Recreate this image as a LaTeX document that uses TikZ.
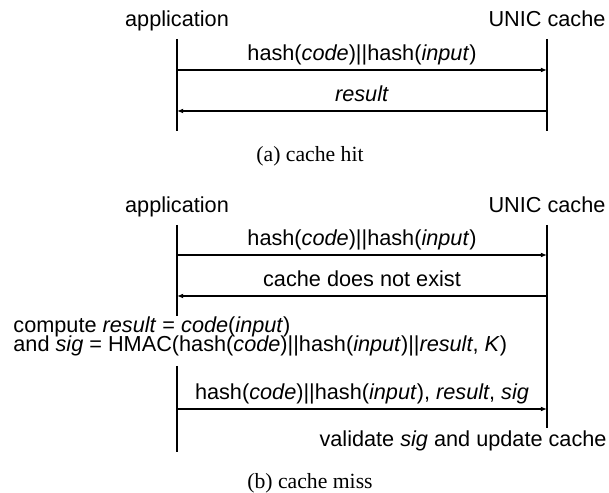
\documentclass[tikz,border=0pt]{standalone}
\usepackage{fontspec}
\setmainfont{Liberation Serif}
\newfontfamily\helv{Liberation Sans}
\usetikzlibrary{arrows.meta,positioning}

\begin{document}
\begin{tikzpicture}[x=0.461pt,y=-0.461pt,
    actor/.style={font=\helv\fontsize{10}{12}\selectfont, anchor=base, inner sep=0pt},
    life/.style={line width=1pt},
    msg/.style={line width=0.9pt, -{Latex[length=2.8pt,width=2.2pt]}},
    lbl/.style={font=\helv\fontsize{10}{12}\selectfont, midway, anchor=base, yshift=4.6pt, inner sep=0pt},
    note/.style={font=\helv\fontsize{10}{12}\selectfont, inner sep=0pt},
    subcap/.style={font=\fontsize{10}{12}\selectfont, anchor=base, inner sep=0pt}]
\useasboundingbox (0,0) rectangle (609,493);

% (a) cache hit
\node[actor] (appA) at (177,27) {application};
\node[actor] (unicA) at (547,27) {UNIC cache};
\coordinate (appAtop) at (177,39);
\coordinate (appAbot) at (177,131);
\coordinate (unicAtop) at (547,39);
\coordinate (unicAbot) at (547,131);
\draw[life] (appAtop) -- (appAbot);
\draw[life] (unicAtop) -- (unicAbot);
\coordinate (reqAs) at (177,70);
\coordinate (reqAe) at (547,70);
\coordinate (resAs) at (547,111);
\coordinate (resAe) at (177,111);
\draw[msg] (reqAs) -- node[lbl] {hash(\textit{code})||hash(\textit{input})} (reqAe);
\draw[msg] (resAs) -- node[lbl] {\textit{result}} (resAe);
\node[subcap] (capA) at (310,162) {(a) cache hit};

% (b) cache miss
\node[actor] (appB) at (177,213) {application};
\node[actor] (unicB) at (547,213) {UNIC cache};
\coordinate (appBtop) at (177,225);
\coordinate (appBmid) at (177,316);
\coordinate (appBlow) at (177,366);
\coordinate (appBbot) at (177,452);
\coordinate (unicBtop) at (547,225);
\coordinate (unicBbot) at (547,428);
\draw[life] (appBtop) -- (appBmid);
\draw[life] (appBlow) -- (appBbot);
\draw[life] (unicBtop) -- (unicBbot);
\coordinate (reqBs) at (177,255);
\coordinate (reqBe) at (547,255);
\coordinate (missBs) at (547,296);
\coordinate (missBe) at (177,296);
\coordinate (putBs) at (177,409);
\coordinate (putBe) at (547,409);
\draw[msg] (reqBs) -- node[lbl] {hash(\textit{code})||hash(\textit{input})} (reqBe);
\draw[msg] (missBs) -- node[lbl] {cache does not exist} (missBe);
\node[note, anchor=base west] (compute) at (13,333) {compute \textit{result} = \textit{code}(\textit{input})};
\node[note, anchor=base west] (hmac) at (13,352) {and \textit{sig} = HMAC(hash(\textit{code})||hash(\textit{input})||\textit{result}, \textit{K})};
\draw[msg] (putBs) -- node[lbl] {hash(\textit{code})||hash(\textit{input}), \textit{result}, \textit{sig}} (putBe);
\node[note, anchor=base east] (validate) at (607,447) {validate \textit{sig} and update cache};
\node[subcap] (capB) at (310,489) {(b) cache miss};
\end{tikzpicture}
\end{document}
